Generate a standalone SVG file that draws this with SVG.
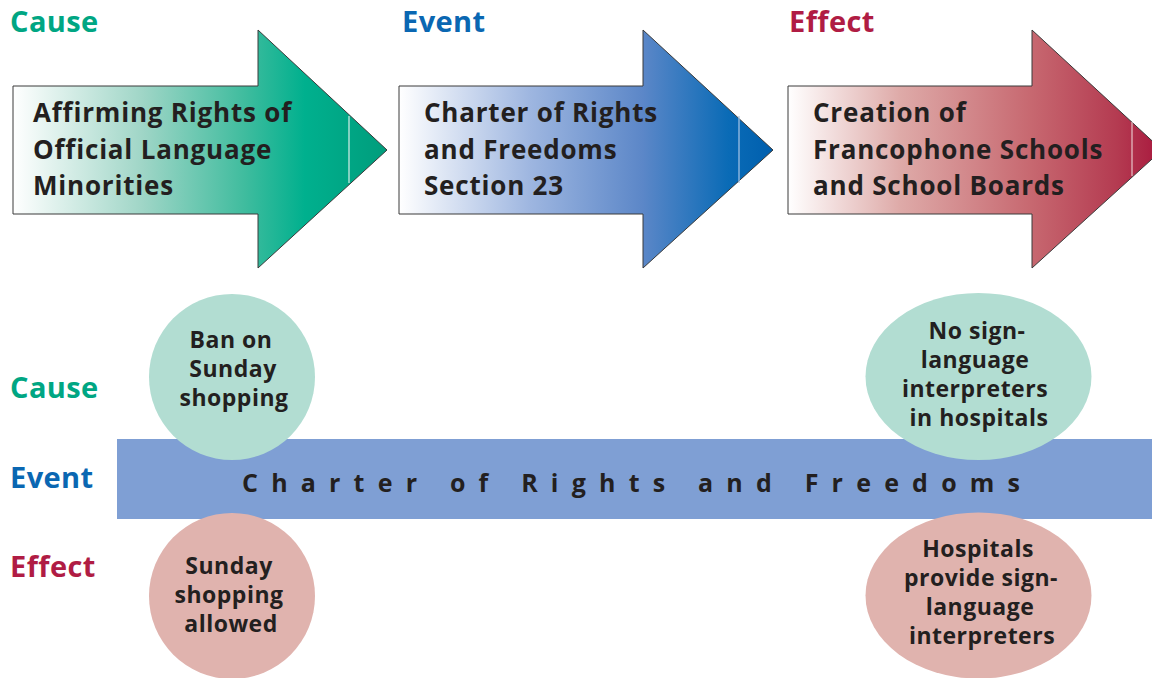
<svg xmlns="http://www.w3.org/2000/svg" width="1152" height="678" viewBox="0 0 1152 678">
<style>
.hdr{font-family:"Open Sans","Liberation Sans",sans-serif;font-weight:700;font-size:29px;letter-spacing:0.4px}
.cause{fill:#00a683}
.event{fill:#0a67b2}
.effect{fill:#b01c44}
.atxt{font-family:"Open Sans","Liberation Sans",sans-serif;font-weight:700;font-size:26px;letter-spacing:0.8px;fill:#231f20}
.ctxt{font-family:"Open Sans","Liberation Sans",sans-serif;font-weight:700;font-size:23px;letter-spacing:0.5px;fill:#231f20;text-anchor:middle}
.arrow{stroke:#3a3a3a;stroke-width:1}
.seam{stroke:#d8efe8;stroke-width:1.2}
</style>
<defs>
<linearGradient id="gT" gradientUnits="userSpaceOnUse" x1="13" y1="0" x2="387" y2="0">
<stop offset="0" stop-color="#ffffff"/>
<stop offset="0.35" stop-color="#9ed5c6"/>
<stop offset="0.62" stop-color="#3fbc9e"/>
<stop offset="0.78" stop-color="#00b08e"/>
<stop offset="1" stop-color="#009d7c"/>
</linearGradient>
<linearGradient id="gB" gradientUnits="userSpaceOnUse" x1="399" y1="0" x2="773" y2="0">
<stop offset="0" stop-color="#ffffff"/>
<stop offset="0.35" stop-color="#9eb6e0"/>
<stop offset="0.65" stop-color="#5c87c8"/>
<stop offset="0.88" stop-color="#0a6bb6"/>
<stop offset="1" stop-color="#005fae"/>
</linearGradient>
<linearGradient id="gR" gradientUnits="userSpaceOnUse" x1="788" y1="0" x2="1162" y2="0">
<stop offset="0" stop-color="#ffffff"/>
<stop offset="0.3" stop-color="#deaaa8"/>
<stop offset="0.65" stop-color="#c76870"/>
<stop offset="0.88" stop-color="#b43b51"/>
<stop offset="1" stop-color="#a8173d"/>
</linearGradient>
</defs>
<rect width="1152" height="678" fill="#ffffff"/>

<g id="top-headers">
<text class="hdr cause" x="10" y="32">Cause</text>
<text class="hdr event" x="402" y="32">Event</text>
<text class="hdr effect" x="789" y="32">Effect</text>
</g>

<g id="arrow-cause">
<path class="arrow" fill="url(#gT)" d="M13,86 H258 V30 L387,150 L258,268 V214 H13 Z"/>
<line class="seam" x1="349" y1="116" x2="349" y2="183"/>
<text class="atxt" x="33" y="122">Affirming Rights of</text>
<text class="atxt" x="33" y="159">Official Language</text>
<text class="atxt" x="33" y="195">Minorities</text>
</g>

<g id="arrow-event">
<path class="arrow" fill="url(#gB)" d="M399,86 H643 V30 L773,150 L643,268 V214 H399 Z"/>
<line class="seam" x1="739" y1="116" x2="739" y2="183" style="stroke:#a9c7e6"/>
<text class="atxt" x="424" y="122">Charter of Rights</text>
<text class="atxt" x="424" y="159">and Freedoms</text>
<text class="atxt" x="424" y="195">Section 23</text>
</g>

<g id="arrow-effect">
<path class="arrow" fill="url(#gR)" d="M788,86 H1032 V30 L1162,150 L1032,268 V214 H788 Z"/>
<line class="seam" x1="1132" y1="122" x2="1132" y2="176" style="stroke:#e8c4c8"/>
<text class="atxt" x="813" y="122">Creation of</text>
<text class="atxt" x="813" y="159">Francophone Schools</text>
<text class="atxt" x="813" y="195">and School Boards</text>
</g>

<g id="side-labels">
<text class="hdr cause" x="10" y="398">Cause</text>
<text class="hdr event" x="10" y="488">Event</text>
<text class="hdr effect" x="10" y="577">Effect</text>
</g>

<g id="event-band">
<rect x="117" y="439" width="1035" height="80" fill="#7f9fd4"/>
<text x="242" y="492" textLength="778" lengthAdjust="spacing" style="font-family:'Open Sans','Liberation Sans',sans-serif;font-weight:700;font-size:25px;fill:#231f20">Charter of Rights and Freedoms</text>
</g>

<g id="cause-sunday">
<circle cx="232" cy="377" r="83" fill="#b2ddd2"/>
<text class="ctxt" x="231" y="348">Ban on</text>
<text class="ctxt" x="233" y="377">Sunday</text>
<text class="ctxt" x="234" y="406">shopping</text>
</g>

<g id="effect-sunday">
<circle cx="232" cy="596" r="83" fill="#e0b3ae"/>
<text class="ctxt" x="229" y="574">Sunday</text>
<text class="ctxt" x="229" y="603">shopping</text>
<text class="ctxt" x="231" y="632">allowed</text>
</g>

<g id="cause-hospitals">
<ellipse cx="978.5" cy="376.5" rx="113" ry="83.5" fill="#b2ddd2"/>
<text class="ctxt" x="977" y="339">No sign-</text>
<text class="ctxt" x="975" y="368">language</text>
<text class="ctxt" x="975" y="397">interpreters</text>
<text class="ctxt" x="979" y="426">in hospitals</text>
</g>

<g id="effect-hospitals">
<ellipse cx="978.5" cy="595.5" rx="113" ry="83" fill="#e0b3ae"/>
<text class="ctxt" x="978" y="557">Hospitals</text>
<text class="ctxt" x="981" y="586">provide sign-</text>
<text class="ctxt" x="980" y="615">language</text>
<text class="ctxt" x="982" y="644">interpreters</text>
</g>
</svg>
